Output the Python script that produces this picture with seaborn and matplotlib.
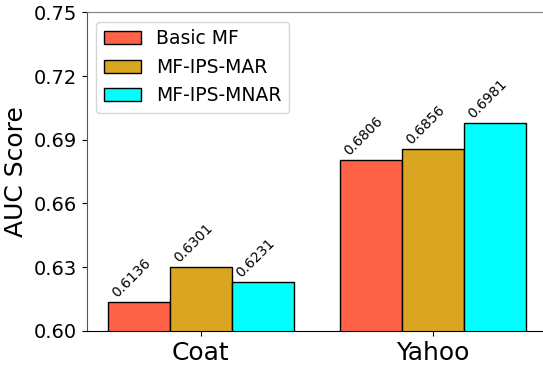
import matplotlib
matplotlib.use("Agg")
import matplotlib.pyplot as plt
import seaborn as sns
import pandas as pd
import numpy as np

datasets = ["Coat", "Yahoo"]
methods = ["Basic MF", "MF-IPS-MAR", "MF-IPS-MNAR"]
auc_basic = [0.6136, 0.6806]
auc_ips_mar = [0.6301, 0.6856]
auc_ips_mnar = [0.6231, 0.6981]
colors = ["tomato", "goldenrod", "cyan"]

rows = []
for m, vals in zip(methods, [auc_basic, auc_ips_mar, auc_ips_mnar]):
    for d, v in zip(datasets, vals):
        rows.append({"Dataset": d, "Method": m, "AUC": v})
df = pd.DataFrame(rows)

sns.set_style("ticks", rc={"text.color": "black", "xtick.color": "black",
                           "ytick.color": "black", "axes.labelcolor": "black"})
fig, ax = plt.subplots(figsize=(5.43, 3.66), dpi=100)
sns.barplot(data=df, x="Dataset", y="AUC", hue="Method", hue_order=methods,
            order=datasets, palette=colors, saturation=1, edgecolor="black",
            linewidth=1, errorbar=None, ax=ax)

# value labels above bars
for container in ax.containers:
    for bar in container:
        h = bar.get_height()
        ax.text(bar.get_x() + 0.005, h + 0.0008, f"{h:.4f}", rotation=45,
                ha="left", va="bottom", fontsize=10)

ax.set_xlim(-0.491, 1.509)
ax.set_ylim(0.60, 0.75)
ticks = np.arange(0.60, 0.751, 0.03)
ax.set_yticks(ticks)
ax.set_yticklabels([f"{t:.2f}" for t in ticks], fontsize=14)
ax.tick_params(axis="x", labelsize=18)
ax.set_xlabel("")
ax.set_ylabel("AUC Score", fontsize=18)
ax.legend(loc="upper left", fontsize=13.5)

ax.spines["right"].set_visible(False)
ax.spines["top"].set_color("#808080")
ax.spines["left"].set_color("#555555")
ax.spines["bottom"].set_color("black")

fig.subplots_adjust(left=0.160, right=1.015, top=0.966, bottom=0.096)
plt.savefig("out.png", dpi=100)
plt.close()
